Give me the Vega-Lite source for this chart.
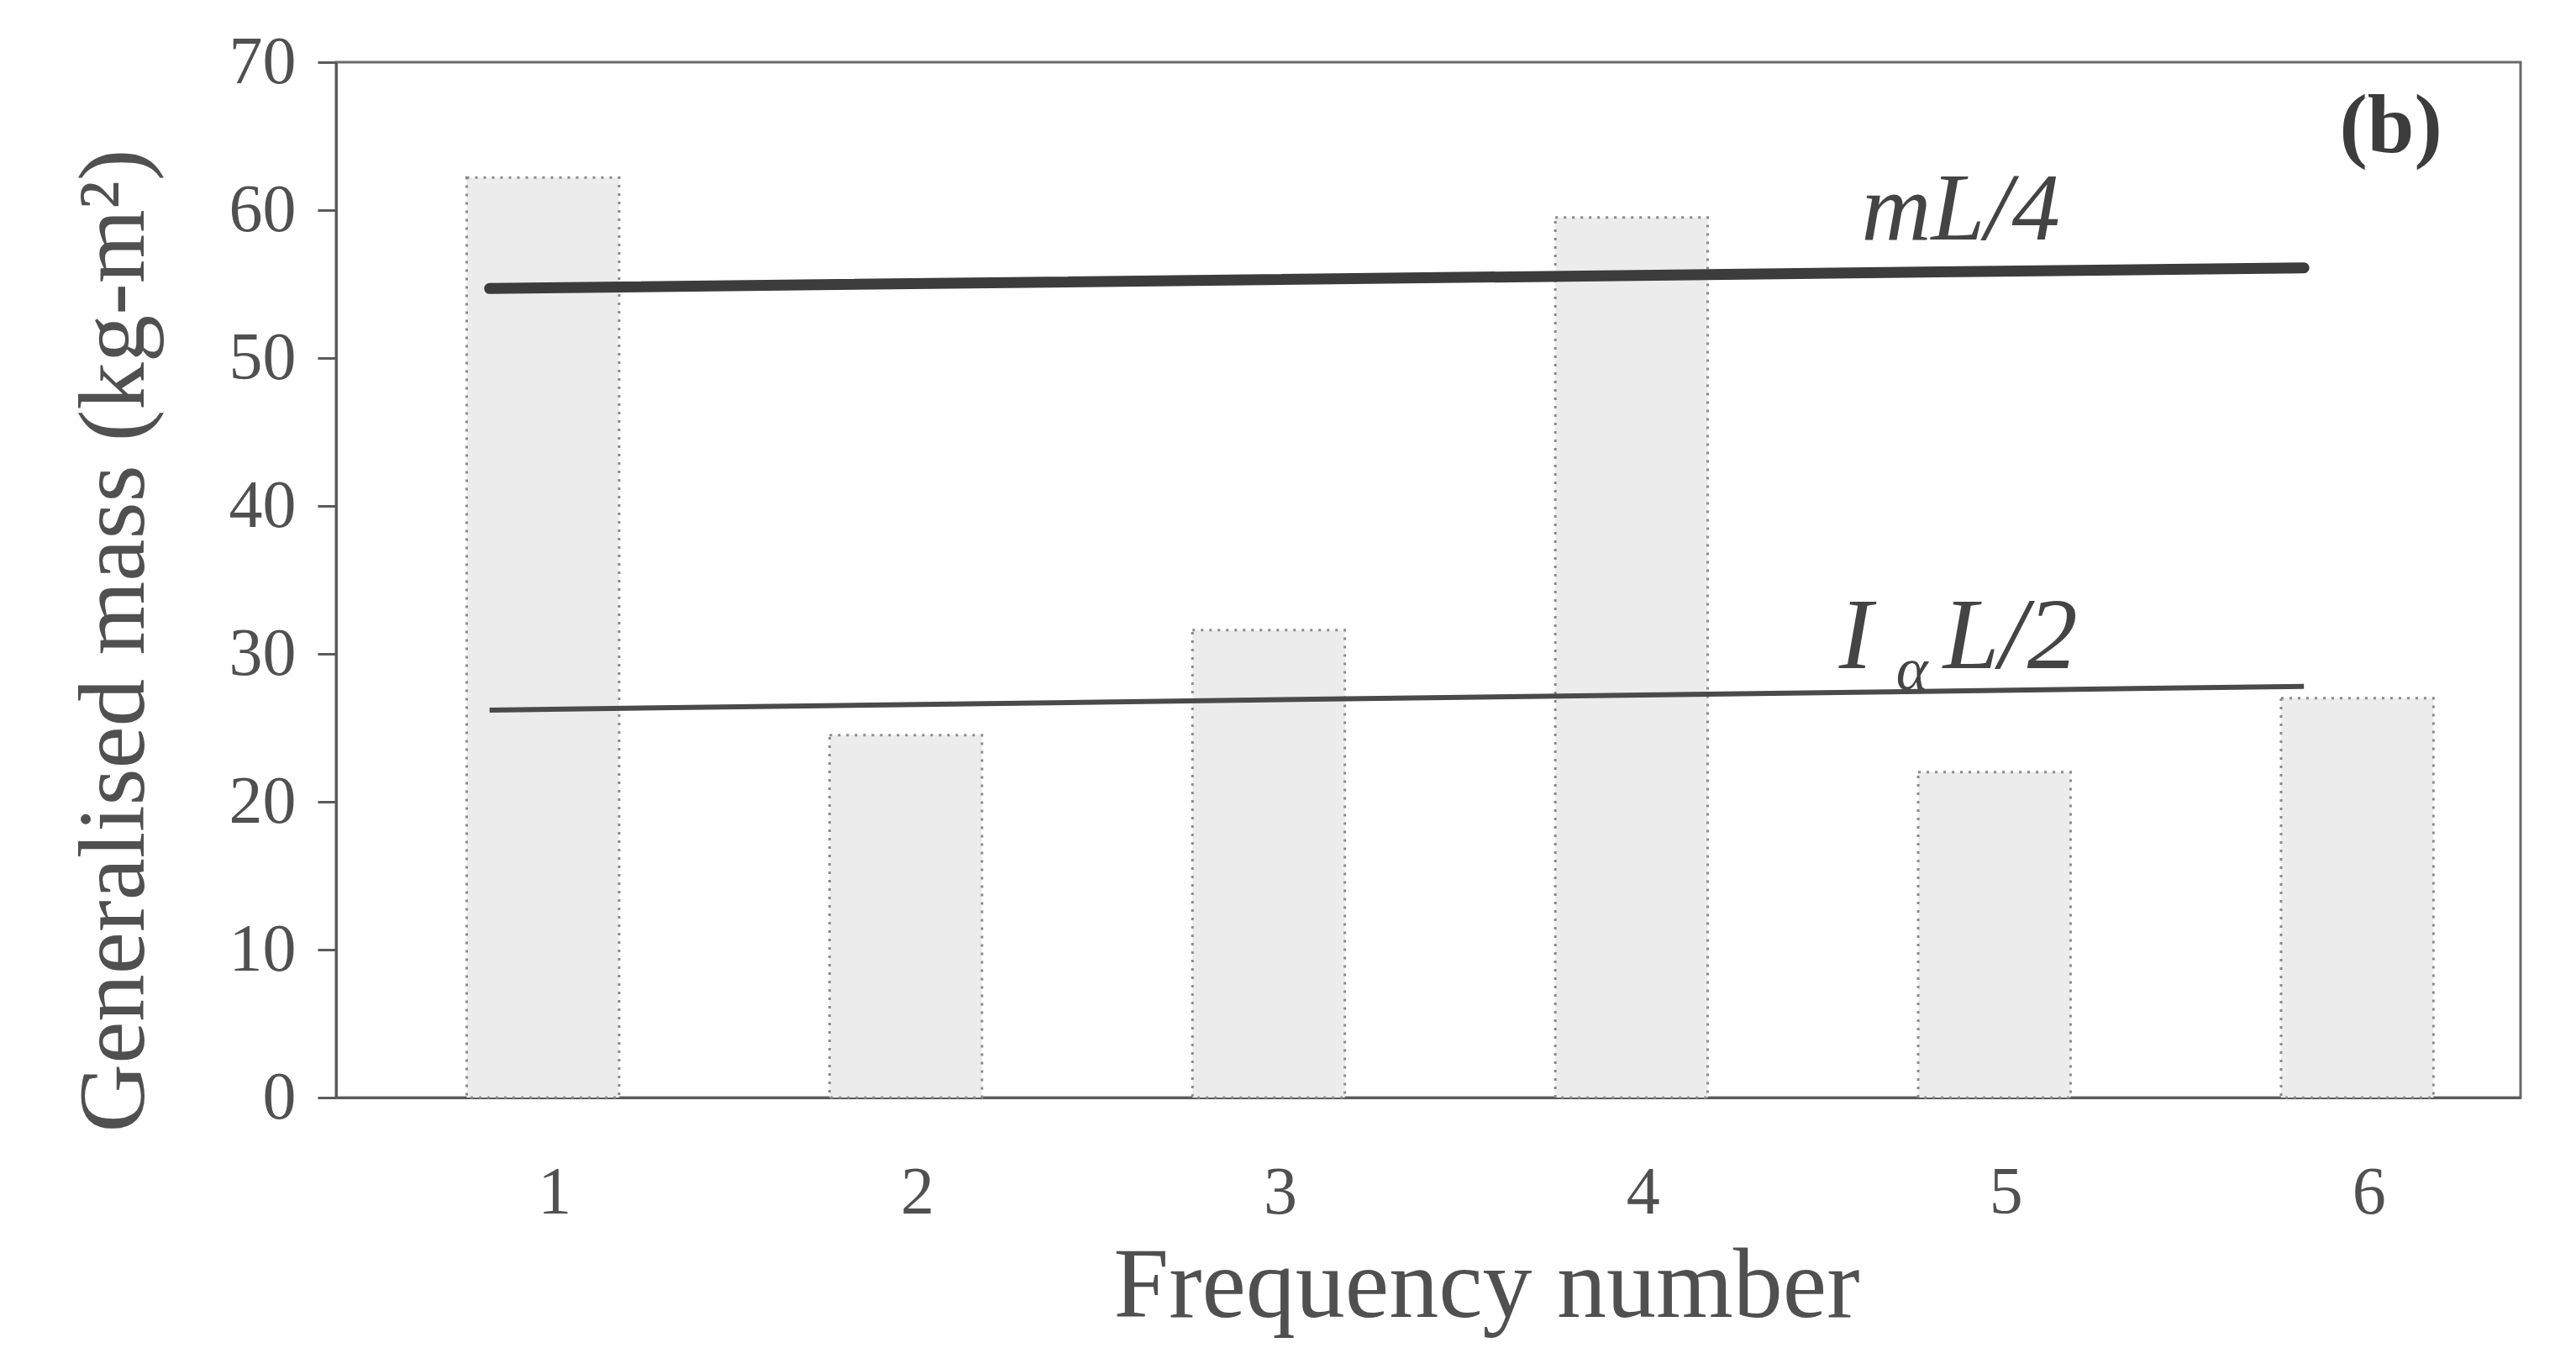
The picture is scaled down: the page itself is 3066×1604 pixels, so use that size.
{
  "$schema": "https://vega.github.io/schema/vega-lite/v6.json",
  "width": 2600,
  "height": 1232,
  "autosize": {"type": "none"},
  "padding": {"left": 400, "top": 74, "right": 66, "bottom": 298},
  "background": "white",
  "config": {
    "font": "Liberation Serif",
    "view": {"stroke": "#6a6a6a", "strokeWidth": 3},
    "axis": {"labelFont": "Liberation Serif", "titleFont": "Liberation Serif", "labelColor": "#505050", "titleColor": "#505050", "domainColor": "#5a5a5a", "domainWidth": 3, "tickColor": "#5a5a5a", "tickWidth": 3, "grid": false, "titleFontWeight": "normal"}
  },
  "datasets": {
    "bars": [
      {"freq": "1", "mass": 62.2},
      {"freq": "2", "mass": 24.5},
      {"freq": "3", "mass": 31.6},
      {"freq": "4", "mass": 59.5},
      {"freq": "5", "mass": 22.0},
      {"freq": "6", "mass": 27.0}
    ],
    "lines": [
      {"freq": "1", "mass": 54.7, "series": "mL/4"},
      {"freq": "6", "mass": 56.1, "series": "mL/4"},
      {"freq": "1", "mass": 26.2, "series": "IaL/2"},
      {"freq": "6", "mass": 27.8, "series": "IaL/2"}
    ],
    "one": [{"k": 1}]
  },
  "layer": [
    {
      "data": {"name": "bars"},
      "mark": {"type": "bar", "fill": "#ececec", "stroke": "#8a8a8a", "strokeWidth": 3, "strokeDash": [3, 7]},
      "encoding": {
        "x": {
          "field": "freq", "type": "ordinal",
          "scale": {"paddingInner": 0.58, "paddingOuter": 0.3, "align": 0.6},
          "axis": {"labelAngle": 0, "labelFontSize": 80, "labelPadding": 74, "labelOffset": 14, "ticks": false, "title": "Frequency number", "titleFontSize": 118, "titlePadding": 14, "titleX": 1369}
        },
        "y": {
          "field": "mass", "type": "quantitative",
          "scale": {"domain": [0, 70], "nice": false},
          "axis": {"values": [0, 10, 20, 30, 40, 50, 60, 70], "labelFontSize": 80, "tickSize": 22, "labelPadding": 26, "title": "Generalised mass (kg-m²)", "titleFontSize": 113, "titlePadding": 78, "titleY": 688}
        }
      }
    },
    {
      "data": {"name": "lines"},
      "transform": [{"filter": "datum.series == 'mL/4'"}],
      "mark": {"type": "line", "color": "#3c3c3c", "strokeWidth": 13, "strokeCap": "round"},
      "encoding": {
        "x": {"field": "freq", "type": "ordinal", "bandPosition": 0.15},
        "y": {"field": "mass", "type": "quantitative"}
      }
    },
    {
      "data": {"name": "lines"},
      "transform": [{"filter": "datum.series == 'IaL/2'"}],
      "mark": {"type": "line", "color": "#4a4a4a", "strokeWidth": 6},
      "encoding": {
        "x": {"field": "freq", "type": "ordinal", "bandPosition": 0.15},
        "y": {"field": "mass", "type": "quantitative"}
      }
    },
    {
      "data": {"name": "one"},
      "mark": {"type": "text", "text": "mL/4", "font": "Liberation Serif", "fontStyle": "italic", "fontSize": 115, "color": "#444444", "align": "center", "baseline": "middle", "dx": -40},
      "encoding": {"x": {"datum": "5", "type": "ordinal", "bandPosition": 0.5}, "y": {"datum": 60, "type": "quantitative"}}
    },
    {
      "data": {"name": "one"},
      "mark": {"type": "text", "text": "I", "font": "Liberation Serif", "fontStyle": "italic", "fontSize": 120, "color": "#444444", "align": "center", "baseline": "middle", "dx": -165},
      "encoding": {"x": {"datum": "5", "type": "ordinal", "bandPosition": 0.5}, "y": {"datum": 31.1, "type": "quantitative"}}
    },
    {
      "data": {"name": "one"},
      "mark": {"type": "text", "text": "α", "font": "Liberation Serif", "fontStyle": "italic", "fontSize": 72, "color": "#444444", "align": "center", "baseline": "middle", "dx": -98, "dy": 39},
      "encoding": {"x": {"datum": "5", "type": "ordinal", "bandPosition": 0.5}, "y": {"datum": 31.1, "type": "quantitative"}}
    },
    {
      "data": {"name": "one"},
      "mark": {"type": "text", "text": "L/2", "font": "Liberation Serif", "fontStyle": "italic", "fontSize": 120, "color": "#444444", "align": "center", "baseline": "middle", "dx": 19},
      "encoding": {"x": {"datum": "5", "type": "ordinal", "bandPosition": 0.5}, "y": {"datum": 31.1, "type": "quantitative"}}
    },
    {
      "data": {"name": "one"},
      "mark": {"type": "text", "text": "(b)", "font": "Liberation Serif", "fontWeight": "bold", "fontSize": 100, "color": "#3c3c3c", "align": "center", "baseline": "middle", "dx": 40},
      "encoding": {"x": {"datum": "6", "type": "ordinal", "bandPosition": 0.5}, "y": {"datum": 65.6, "type": "quantitative"}}
    }
  ]
}
